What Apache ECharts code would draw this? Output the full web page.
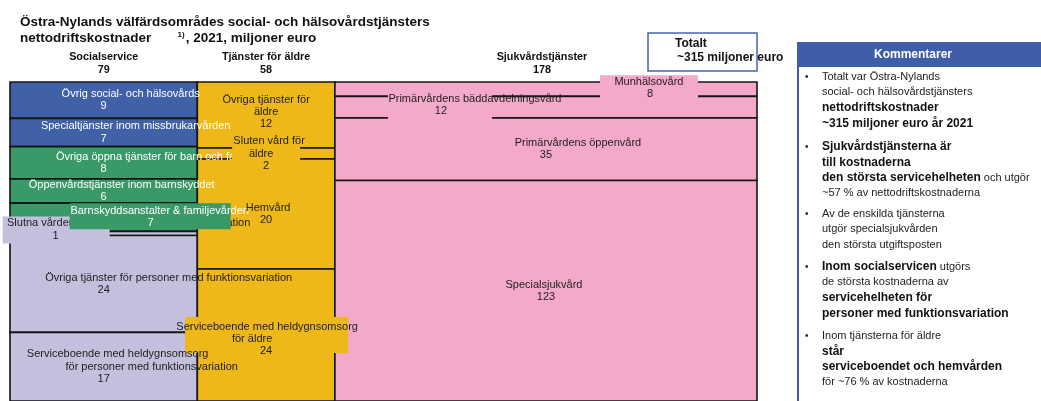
<!DOCTYPE html>
<html>
<head>
<meta charset="utf-8">
<title>Nettodriftskostnader 2021</title>
<script src="https://cdn.jsdelivr.net/npm/echarts/dist/echarts.min.js"></script>
<style>
  html, body { margin: 0; padding: 0; background: #fff; }
  #chart { width: 1041px; height: 401px; }
</style>
</head>
<body>
<div id="chart"></div>
<script>
// servicehelheter och totaler (miljoner euro)
const columns = ['Socialservice', 'Tjänster för äldre', 'Sjukvårdstjänster'];
const columnTotals = [79, 58, 178];

// socialservice
const socialNames = [
  'Övrig social- och hälsovårds',
  'Specialtjänster inom missbrukarvården',
  'Övriga öppna tjänster för barn och familjer',
  'Öppenvårdstjänster inom barnskyddet',
  'Barnskyddsanstalter & familjevården',
  'Slutna vården för personer med funktionsvariation',
  'Övriga tjänster för personer med funktionsvariation',
  'Serviceboende med heldygnsomsorg\nför personer med funktionsvariation'
];
const socialValues = [9, 7, 8, 6, 7, 1, 24, 17];

// tjänster för äldre
const elderNames = [
  'Övriga tjänster för\näldre',
  'Sluten vård för\näldre',
  'Hemvård',
  'Serviceboende med heldygnsomsorg\nför äldre'
];
const elderValues = [12, 2, 20, 24];

// sjukvårdstjänster
const healthNames = [
  'Munhälsovård',
  'Primärvårdens bäddavdelningsvård',
  'Primärvårdens öppenvård',
  'Specialsjukvård'
];
const healthValues = [8, 12, 35, 123];

const FONT = '"Liberation Sans", Arial, sans-serif';
const LINE_H = 12.3;

const BLUE = '#4060a8', GREEN = '#3a9a67', LILAC = '#c3bfdc', GOLD = '#edb818', PINK = '#f4a9cb';
const segColors = [
  [BLUE, BLUE, GREEN, GREEN, GREEN, LILAC, LILAC, LILAC],
  [GOLD, GOLD, GOLD, GOLD],
  [PINK, PINK, PINK, PINK]
];
const whiteText = [[true, true, true, true, true, false, false, false], [], []];

// etiketternas förskjutningar (px från segmentets mitt), bakgrundsrutor [l, r, t, b] och ritordning
const labelTweaks = {
  '0-0': { dx: [27] },
  '0-1': { dx: [32] },
  '0-2': { dx: [55] },
  '0-3': { dx: [18] },
  '0-4': { dx: [56], numDx: 47, box: [-34, 127, -14, 12] },
  '0-5': { dx: [25], numDx: -48, dy: -4, box: [-101, 6, -17, 10], z: -1 },
  '0-6': { dx: [65] },
  '0-7': { dx: [14, 48], z: 3 },
  '1-0': { dy: -3 },
  '1-1': { dx: [3, -5], box: [-34, 34, -16, 18] },
  '1-2': { dx: [2] },
  '1-3': { dx: [1, -14], dy: 4, box: [-81, 82, -18, 18] },
  '2-0': { dx: [103], numDx: 104, dy: -1, box: [54, 152, -14, 14] },
  '2-1': { dx: [-71], numDx: -105, dy: -2, box: [-158, -54, -13, 12] },
  '2-2': { dx: [32] },
  '2-3': { dx: [-2] }
};
const headerDx = [0, 0, -4];

const groups = [
  { names: socialNames, values: socialValues },
  { names: elderNames, values: elderValues },
  { names: healthNames, values: healthValues }
];

// segment: [xStart, xEnd, yStart%, yEnd%, kolumn, index]
const segData = [];
const headData = [];
let xPos = 0;
groups.forEach((g, c) => {
  const sum = g.values.reduce((a, b) => a + b, 0);
  let acc = 0;
  g.values.forEach((v, i) => {
    const y0 = acc / sum * 100;
    acc += v;
    segData.push([xPos, xPos + columnTotals[c], y0, acc / sum * 100, c, i]);
  });
  headData.push([xPos, xPos + columnTotals[c], c]);
  xPos += columnTotals[c];
});

const labelData = segData.slice().sort((a, b) => {
  const za = (labelTweaks[a[4] + '-' + a[5]] || {}).z;
  const zb = (labelTweaks[b[4] + '-' + b[5]] || {}).z;
  return (za !== undefined ? za : a[4]) - (zb !== undefined ? zb : b[4]);
});

function renderSeg(params, api) {
  const p0 = api.coord([api.value(0), api.value(2)]);
  const p1 = api.coord([api.value(1), api.value(3)]);
  const c = api.value(4), i = api.value(5);
  return {
    type: 'rect',
    shape: { x: p0[0], y: p0[1], width: p1[0] - p0[0], height: p1[1] - p0[1] },
    style: { fill: segColors[c][i], stroke: '#151515', lineWidth: 1.6 }
  };
}

function renderLabel(params, api) {
  const c = api.value(4), i = api.value(5);
  const ctr = api.coord([(api.value(0) + api.value(1)) / 2, (api.value(2) + api.value(3)) / 2]);
  const t = labelTweaks[c + '-' + i] || {};
  const names = groups[c].names[i].split('\n');
  const lines = names.concat([String(groups[c].values[i])]);
  const dx = names.map((_, k) => (t.dx && t.dx[k] !== undefined) ? t.dx[k] : 0).concat([t.numDx || 0]);
  const cy = ctr[1] + (t.dy || 0);
  const fill = whiteText[c][i] ? '#ffffff' : '#1e1e1e';
  const children = [];
  if (t.box) {
    children.push({
      type: 'rect',
      shape: { x: ctr[0] + t.box[0], y: ctr[1] + t.box[2], width: t.box[1] - t.box[0], height: t.box[3] - t.box[2] },
      style: { fill: segColors[c][i] }
    });
  }
  lines.forEach((txt, k) => {
    children.push({
      type: 'text',
      x: ctr[0] + dx[k],
      y: cy + (k - (lines.length - 1) / 2) * LINE_H,
      style: { text: txt, fill: fill, fontSize: 11, fontFamily: FONT, align: 'center', verticalAlign: 'middle' }
    });
  });
  return { type: 'group', children: children };
}

function renderHead(params, api) {
  const c = api.value(2);
  const top = api.coord([(api.value(0) + api.value(1)) / 2, 0]);
  const x = top[0] + headerDx[c];
  return {
    type: 'group',
    children: [
      { type: 'text', x: x, y: top[1] - 25, style: { text: columns[c], fill: '#111', fontSize: 10.8, fontWeight: 'bold', fontFamily: FONT, align: 'center', verticalAlign: 'middle' } },
      { type: 'text', x: x, y: top[1] - 12, style: { text: String(columnTotals[c]), fill: '#111', fontSize: 10.8, fontWeight: 'bold', fontFamily: FONT, align: 'center', verticalAlign: 'middle' } }
    ]
  };
}

// kommentarer i panelen till höger
const rich = {
  n: { fontSize: 11, fontFamily: FONT, fill: '#222', lineHeight: 15.5 },
  b: { fontSize: 12, fontFamily: FONT, fontWeight: 'bold', fill: '#111', lineHeight: 15.5 }
};
const comments = [
  '{n|Totalt var Östra-Nylands}\n{n|social- och hälsovårdstjänsters}\n{b|nettodriftskostnader}\n{b|~315 miljoner euro år 2021}',
  '{b|Sjukvårdstjänsterna är}\n{b|till kostnaderna}\n{b|den största servicehelheten}{n| och utgör}\n{n|~57 % av nettodriftskostnaderna}',
  '{n|Av de enskilda tjänsterna}\n{n|utgör specialsjukvården}\n{n|den största utgiftsposten}',
  '{b|Inom socialservicen}{n| utgörs}\n{n|de största kostnaderna av}\n{b|servicehelheten för}\n{b|personer med funktionsvariation}',
  '{n|Inom tjänsterna för äldre}\n{b|står}\n{b|serviceboendet och hemvården}\n{n|för ~76 % av kostnaderna}'
];
const commentTops = [69, 139, 206, 259, 328];

const graphic = [
  { type: 'text', x: 20, y: 22, style: { text: 'Östra-Nylands välfärdsområdes social- och hälsovårdstjänsters', fill: '#111', font: 'bold 13.5px ' + FONT, verticalAlign: 'middle' } },
  { type: 'text', x: 20, y: 38, style: {
      text: '{t|nettodriftskostnader       }{s|1)}{t|, 2021, miljoner euro}', verticalAlign: 'middle',
      rich: { t: { fontSize: 13.5, fontWeight: 'bold', fontFamily: FONT, fill: '#111' }, s: { fontSize: 8, fontWeight: 'bold', fontFamily: FONT, fill: '#111', verticalAlign: 'top', padding: [0, 1, 6, 0] } }
  } },
  { type: 'rect', shape: { x: 648, y: 33, width: 109, height: 38 }, style: { fill: 'none', stroke: '#4466b0', lineWidth: 1.5 } },
  { type: 'text', x: 675, y: 44, style: { text: 'Totalt', fill: '#111', font: 'bold 12px ' + FONT, verticalAlign: 'middle' } },
  { type: 'text', x: 677, y: 58, style: { text: '~315 miljoner euro', fill: '#111', font: 'bold 12px ' + FONT, verticalAlign: 'middle' } },
  { type: 'rect', shape: { x: 797, y: 42, width: 260, height: 25 }, style: { fill: '#3f5ea7' } },
  { type: 'text', x: 913, y: 54.5, style: { text: 'Kommentarer', fill: '#fff', font: 'bold 12px ' + FONT, align: 'center', verticalAlign: 'middle' } },
  { type: 'line', shape: { x1: 798, y1: 67, x2: 798, y2: 401 }, style: { stroke: '#3f5ea7', lineWidth: 2 } }
];
comments.forEach((txt, k) => {
  graphic.push({ type: 'text', x: 805, y: commentTops[k], style: { text: '•', fill: '#222', font: '10px ' + FONT, lineHeight: 15.5 } });
  graphic.push({ type: 'text', x: 822, y: commentTops[k], style: { text: txt, rich: rich } });
});

const chart = echarts.init(document.getElementById('chart'), null, { renderer: 'canvas' });
chart.setOption({
  animation: false,
  textStyle: { fontFamily: FONT },
  grid: { left: 10, top: 82, width: 747, height: 323 },
  xAxis: { type: 'value', min: 0, max: 315, show: false },
  yAxis: { type: 'value', min: 0, max: 100, inverse: true, show: false },
  series: [
    { type: 'custom', name: 'segment', renderItem: renderSeg, data: segData, clip: false, z: 2, silent: true },
    { type: 'custom', name: 'etiketter', renderItem: renderLabel, data: labelData, clip: false, z: 3, silent: true },
    { type: 'custom', name: 'rubriker', renderItem: renderHead, data: headData, clip: false, z: 3, silent: true }
  ],
  graphic: graphic
});
</script>
</body>
</html>
